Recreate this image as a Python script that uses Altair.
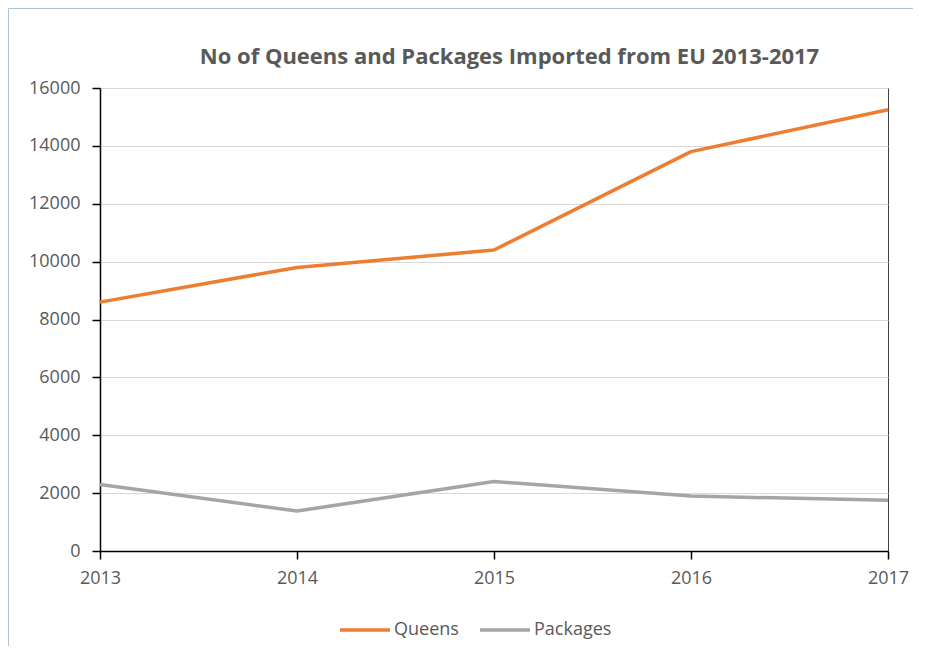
import altair as alt
import pandas as pd

years = [2013, 2014, 2015, 2016, 2017]
queens = [8600, 9800, 10400, 13800, 15250]
packages = [2300, 1380, 2400, 1900, 1750]
series_names = ["Queens", "Packages"]
series_colors = ["#ED7D31", "#A5A5A5"]
y_ticks = [0, 2000, 4000, 6000, 8000, 10000, 12000, 14000, 16000]
title_text = "No of Queens and Packages Imported from EU 2013-2017"

rows = []
for y, q, p in zip(years, queens, packages):
    rows.append({"year": str(y), "series": "Queens", "value": q})
    rows.append({"year": str(y), "series": "Packages", "value": p})
df = pd.DataFrame(rows)

FONT = "Open Sans"
GREY = "#595959"

lines = alt.Chart(df).mark_line(strokeWidth=3.5, strokeCap="butt", strokeJoin="round").encode(
    x=alt.X("year:O", scale=alt.Scale(type="point", padding=0),
            axis=alt.Axis(title=None, labelAngle=0, domainColor="#000000", tickColor="#000000",
                          tickSize=8, labelPadding=10, grid=False)),
    y=alt.Y("value:Q", scale=alt.Scale(domain=[0, 16000], nice=False),
            axis=alt.Axis(title=None, values=y_ticks, format="d", domainColor="#000000",
                          tickColor="#000000", tickSize=8, labelPadding=12,
                          gridColor="#D9D9D9", gridWidth=1)),
    color=alt.Color("series:N", scale=alt.Scale(domain=series_names, range=series_colors),
                    sort=series_names,
                    legend=alt.Legend(title=None, orient="none", direction="horizontal",
                                      legendX=238, legendY=515, symbolType="stroke",
                                      symbolSize=2500, symbolStrokeWidth=3.5,
                                      labelOffset=2, columnPadding=14,
                                      labelFont=FONT, labelFontSize=18, labelColor=GREY)),
)

border = alt.Chart(pd.DataFrame({"k": [0]})).mark_rect(
    fill=None, stroke="#A9C4DC", strokeWidth=1
).encode(x=alt.value(-91.5), x2=alt.value(824), y=alt.value(-79.5), y2=alt.value(563))

title = alt.Chart(pd.DataFrame({"t": [title_text]})).mark_text(
    font=FONT, fontSize=22, fontWeight="bold", color=GREY, align="center", baseline="middle"
).encode(text="t:N", x=alt.value(409.5), y=alt.value(-31))

chart = alt.layer(border, lines, title).properties(
    width=788,
    height=463,
    padding={"left": 92, "top": 80, "right": 25, "bottom": 95},
    autosize=alt.AutoSizeParams(type="none"),
).configure_view(
    stroke="#404040", strokeWidth=1
).configure_axis(
    labelFont=FONT, labelFontSize=18, labelColor=GREY, domainWidth=1.5, tickWidth=1.5
)

chart.save("out.html", embed_options={"renderer": "svg", "actions": False})
